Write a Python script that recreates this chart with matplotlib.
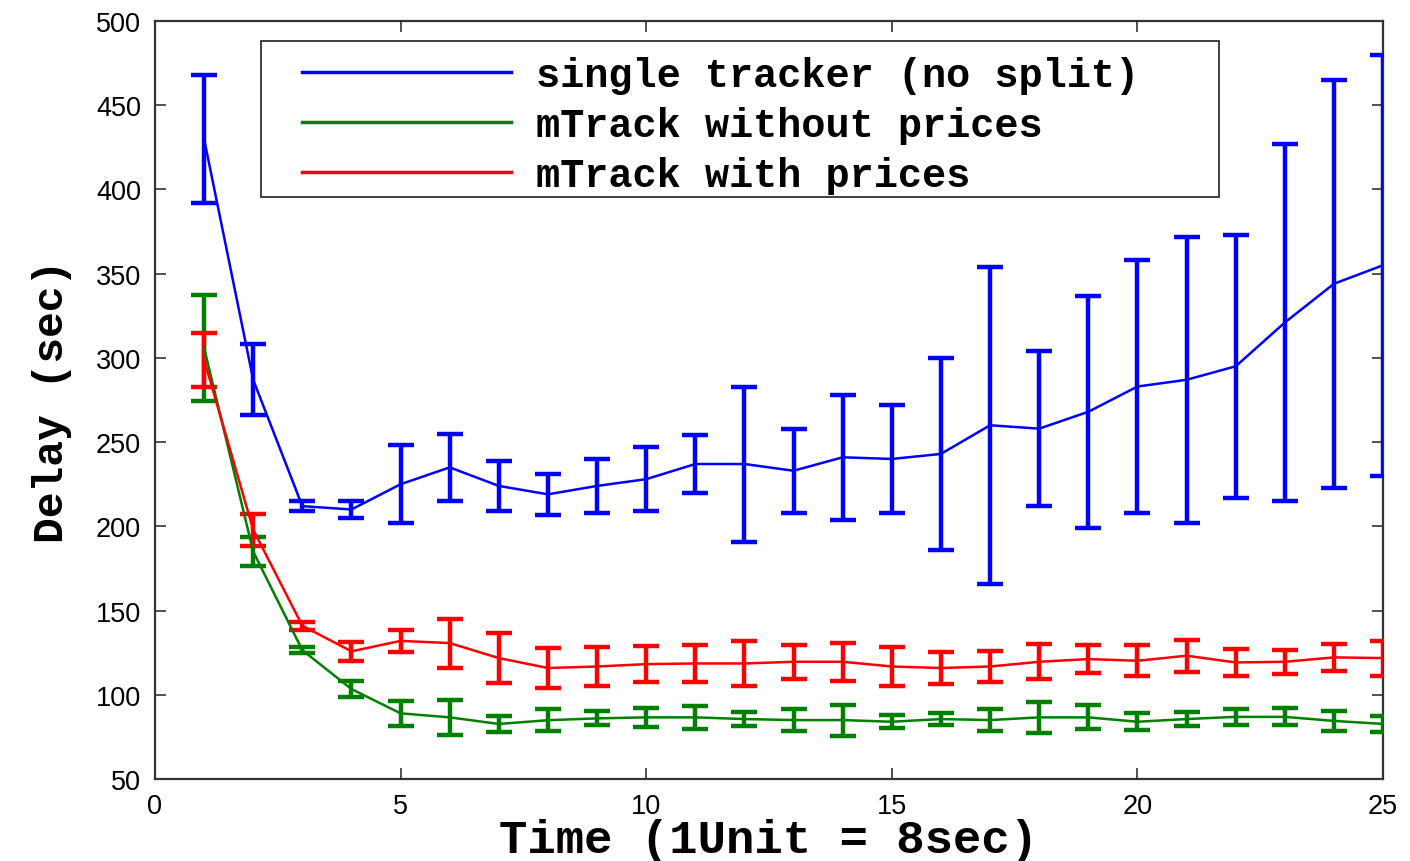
import numpy as np
import matplotlib
matplotlib.use("Agg")
import matplotlib.pyplot as plt
from matplotlib.lines import Line2D
from matplotlib.patches import Rectangle

# values
t = list(range(1, 26))

single_mean = [430, 287, 212, 210, 225, 235, 224, 219, 224, 228, 237, 237, 233,
               241, 240, 243, 260, 258, 268, 283, 287, 295, 321, 344, 355]
single_err = [38, 21, 3, 5, 23, 20, 15, 12, 16, 19, 17, 46, 25, 37, 32, 57, 94,
              46, 69, 75, 85, 78, 106, 121, 125]

noprice_mean = [306, 185, 126.5, 103.4, 89, 86.6, 82.7, 84.9, 86, 86.6, 86.6, 85.6,
                85, 85, 84, 85.6, 85, 86.6, 86.6, 84, 85.6, 86.9, 86.9, 84.5, 82.7]
noprice_err = [31.4, 8.7, 1.7, 4.9, 7.5, 10.2, 4.7, 6.6, 4.2, 5.6, 6.8, 4.4, 6.7,
               9.2, 4, 3.8, 6.7, 9.4, 7.1, 5, 4, 4.7, 5.1, 5.7, 4.7]

price_mean = [299, 198, 141, 125.8, 132, 130.7, 121.8, 115.9, 116.8, 118.2, 118.6,
              118.6, 119.6, 119.6, 116.8, 115.9, 116.8, 119.6, 121.2, 120.2, 123.2,
              119.2, 119.6, 122.2, 121.8]
price_err = [16, 9.6, 2.5, 5.7, 6.7, 14.5, 14.6, 11.9, 11.4, 10.7, 11, 13.1, 10.2,
             11.4, 11.5, 9.4, 9.2, 10.4, 8.2, 9.1, 9.5, 8, 7.2, 8.2, 10.4]

labels = ["single tracker (no split)", "mTrack without prices", "mTrack with prices"]
colors = ["#0000ff", "#007f00", "#ff0000"]

fig = plt.figure(figsize=(14.1, 8.62), dpi=100)
ax = fig.add_axes([0.1099, 0.0951, 0.8710, 0.8794])

series = [(single_mean, single_err), (noprice_mean, noprice_err), (price_mean, price_err)]
for (m, e), c in zip(series, colors):
    ax.errorbar(t, m, yerr=e, color=c, linewidth=1.8, elinewidth=3.2,
                capsize=9.5, capthick=3.2, zorder=3)

ax.set_xlim(0, 25)
ax.set_ylim(50, 500)
ax.set_xticks(range(0, 26, 5))
ax.set_yticks(range(50, 501, 50))

for sp in ax.spines.values():
    sp.set_color("#333333")
    sp.set_linewidth(1.6)
ax.tick_params(direction="in", length=8, width=1.2, color="#333333",
               top=True, right=True, labelsize=19.5, pad=10)
for lab in ax.get_xticklabels() + ax.get_yticklabels():
    lab.set_fontfamily("Liberation Sans")

ax.set_xlabel("Time (1Unit = 8sec)", fontfamily="Liberation Mono",
              fontweight="bold", fontsize=34, labelpad=-1)
ax.set_ylabel("Delay (sec)", fontfamily="Liberation Mono",
              fontweight="bold", fontsize=31, labelpad=17)

# legend: entries without frame, box drawn separately
handles = [Line2D([], [], color=c, linewidth=2.5) for c in colors]
leg = ax.legend(handles, labels, loc="upper left", bbox_to_anchor=(0.1197, 0.954),
                borderaxespad=0, borderpad=0, frameon=False,
                prop={"family": "Liberation Mono", "weight": "bold", "size": 29},
                handlelength=5.2, handletextpad=0.62, labelspacing=0.30)
ax.add_patch(Rectangle((0.0863, 0.7678), 0.7801, 0.2058, transform=ax.transAxes,
                       facecolor="white", edgecolor="#333333", linewidth=1.3,
                       zorder=4))
leg.set_zorder(5)

fig.savefig("out.png", dpi=100)
